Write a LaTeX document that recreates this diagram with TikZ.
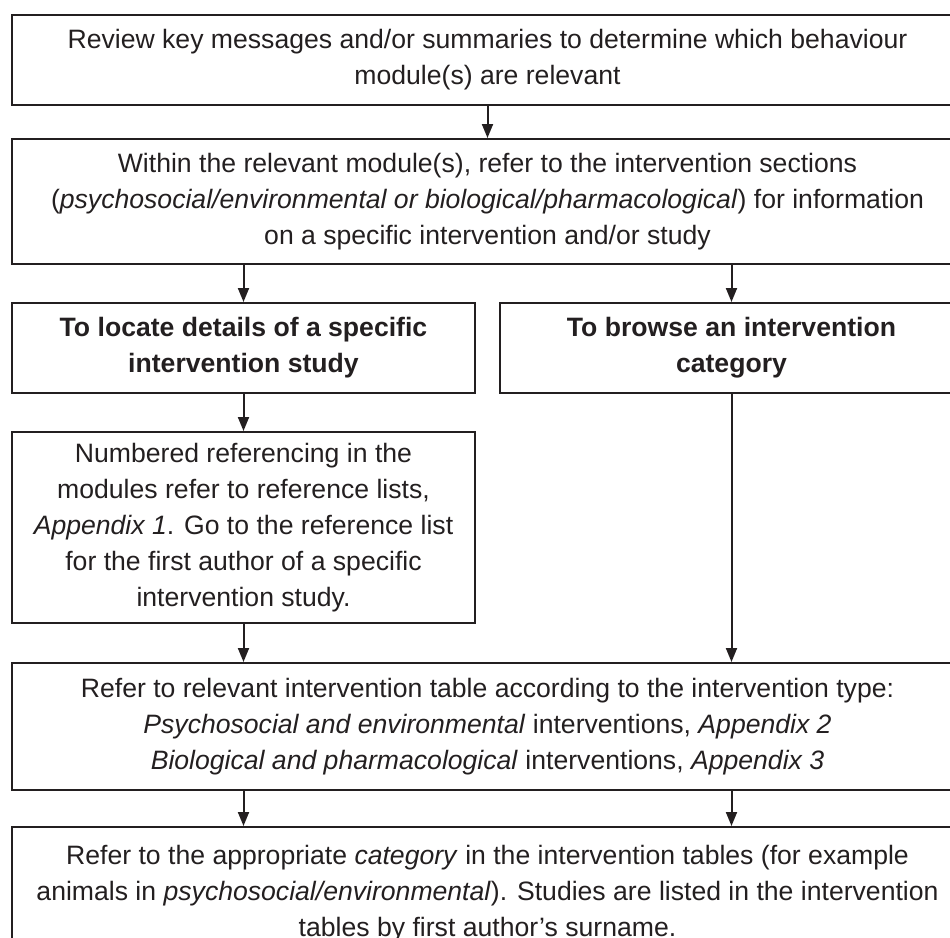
\documentclass[tikz,border=0pt]{standalone}
\usepackage{fontspec}
\setmainfont{Liberation Sans}
\usepackage{tikz}
\usetikzlibrary{positioning,arrows.meta}

\definecolor{ink}{HTML}{231F20}

\begin{document}
\begin{tikzpicture}[
    box/.style = {draw=ink, text=ink, line width=1pt, minimum height=45pt, inner sep=0pt, align=center, font=\fontsize{13.3}{18}\selectfont},
    wide/.style = {box, minimum width=475.5pt},
    half/.style = {box, minimum width=231.5pt},
    head/.style = {half, font=\fontsize{13.3}{18}\selectfont\bfseries},
    > = {Triangle[width=5.5pt,length=7pt]}
]
\useasboundingbox (0,0) rectangle (475pt,-469pt);
\node (review) [wide, anchor=north west] at (5.5pt,-7pt) {Review key messages and/or summaries to determine which behaviour\\ module(s) are relevant};
\node (within) [wide, minimum height=62.5pt, below=16pt of review] {Within the relevant module(s), refer to the intervention sections\\ (\textit{psychosocial/environmental or biological/pharmacological}) for information\\ on a specific intervention and/or study};
\node (locate) [head, below right=18.5pt and 0pt of within.south west] {To locate details of a specific\\ intervention study};
\node (browse) [head, below left=18.5pt and 0pt of within.south east] {To browse an intervention\\ category};
\node (numbered) [half, minimum height=95.5pt, below=18.5pt of locate] {Numbered referencing in the\\ modules refer to reference lists,\\ \textit{Appendix 1}. Go to the reference list\\ for the first author of a specific\\ intervention study.};
\node (refer) [wide, minimum height=63.5pt, below right=19pt and 0pt of numbered.south west] {Refer to relevant intervention table according to the intervention type:\\ \textit{Psychosocial and environmental} interventions, \textit{Appendix 2}\\ \textit{Biological and pharmacological} interventions, \textit{Appendix 3}};
\node (category) [wide, minimum height=67pt, below=17.5pt of refer] {Refer to the appropriate \textit{category} in the intervention tables (for example\\ animals in \textit{psychosocial/environmental}). Studies are listed in the intervention\\ tables by first author's surname.};

\draw[->, ink, line width=1pt] (review) -- (within);
\draw[->, ink, line width=1pt] (within.south -| locate) -- (locate);
\draw[->, ink, line width=1pt] (within.south -| browse) -- (browse);
\draw[->, ink, line width=1pt] (locate) -- (numbered);
\draw[->, ink, line width=1pt] (numbered) -- (numbered |- refer.north);
\draw[->, ink, line width=1pt] (browse) -- (browse |- refer.north);
\draw[->, ink, line width=1pt] (refer.south -| numbered) -- (category.north -| numbered);
\draw[->, ink, line width=1pt] (refer.south -| browse) -- (category.north -| browse);
\end{tikzpicture}
\end{document}
